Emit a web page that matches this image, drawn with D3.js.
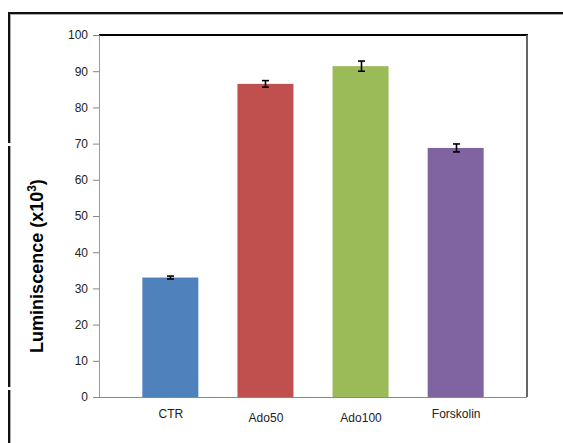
<!DOCTYPE html>
<html>
<head>
<meta charset="utf-8">
<script src="https://cdn.jsdelivr.net/npm/d3@7"></script>
<style>
  html, body { margin: 0; padding: 0; background: #fff; }
  svg { display: block; }
  text { font-family: "Liberation Sans", Arial, sans-serif; }
</style>
</head>
<body>
<svg id="chart" width="563" height="443"></svg>
<script>
// Luminescence per treatment, mean ± error (x10^3)
const categories = ["CTR", "Ado50", "Ado100", "Forskolin"];
const values = [33.0, 86.5, 91.4, 68.8];
const errors = [0.4, 0.9, 1.4, 1.1];
const colors = ["#4f81bd", "#c0504d", "#9bbb59", "#8064a2"];
const yTicks = [0, 10, 20, 30, 40, 50, 60, 70, 80, 90, 100];
const yTitle = "Luminiscence (x10";

const svg = d3.select("#chart");
const m = { left: 99, right: 527, top: 35, bottom: 397 };

const x = d3.scalePoint().domain(categories).range([m.left, m.right]).padding(0.75);
const y = d3.scaleLinear().domain([0, 100]).range([m.bottom, m.top]);
const barW = 56;

// outer frame (top and left edges, with small breaks on the left)
const frame = svg.append("g");
frame.append("line").attr("x1", 9).attr("x2", 563).attr("y1", 14.5).attr("y2", 14.5)
  .attr("stroke", "#aaa").attr("stroke-width", 1);
frame.append("line").attr("x1", 8).attr("x2", 563).attr("y1", 13).attr("y2", 13)
  .attr("stroke", "#111").attr("stroke-width", 2);
[[12, 143], [146, 387], [390, 443]].forEach(([a, b]) => {
  frame.append("line").attr("x1", 10.5).attr("x2", 10.5).attr("y1", Math.max(a, 14)).attr("y2", b)
    .attr("stroke", "#aaa").attr("stroke-width", 1);
  frame.append("line").attr("x1", 9).attr("x2", 9).attr("y1", a).attr("y2", b)
    .attr("stroke", "#111").attr("stroke-width", 2);
});

// plot border: top black, right grey
svg.append("line").attr("x1", m.left).attr("x2", m.right + 1).attr("y1", m.top).attr("y2", m.top)
  .attr("stroke", "#000").attr("stroke-width", 2);
svg.append("line").attr("x1", m.right).attr("x2", m.right).attr("y1", m.top).attr("y2", m.bottom)
  .attr("stroke", "#666").attr("stroke-width", 2);

// bars
svg.append("g").selectAll("rect").data(categories).join("rect")
  .attr("x", (d) => x(d) - barW / 2)
  .attr("width", barW)
  .attr("y", (d, i) => y(values[i]))
  .attr("height", (d, i) => y(0) - y(values[i]))
  .attr("fill", (d, i) => colors[i]);

// error bars
const eb = svg.append("g").attr("stroke", "#000").attr("stroke-width", 1.6);
categories.forEach((c, i) => {
  const cx = Math.round(x(c)) + 0.5;
  const hi = y(values[i] + errors[i]), lo = y(values[i] - errors[i]);
  eb.append("line").attr("x1", cx).attr("x2", cx).attr("y1", hi).attr("y2", lo);
  eb.append("line").attr("x1", cx - 3.5).attr("x2", cx + 3.5).attr("y1", hi).attr("y2", hi);
  eb.append("line").attr("x1", cx - 3.5).attr("x2", cx + 3.5).attr("y1", lo).attr("y2", lo);
});

// y axis
const yAxis = svg.append("g").attr("transform", `translate(${m.left},0)`)
  .call(d3.axisLeft(y).tickValues(yTicks).tickSize(6).tickPadding(5));
yAxis.select(".domain").attr("stroke", "#999");
yAxis.selectAll(".tick line").attr("stroke", "#888");
yAxis.selectAll(".tick text").attr("font-size", 12).attr("fill", "#222")
  .attr("font-family", "'Liberation Sans', Arial, sans-serif");

// x axis baseline
const xAxis = svg.append("g").attr("transform", `translate(0,${m.bottom})`)
  .call(d3.axisBottom(x).tickSize(0).tickPadding(11));
xAxis.select(".domain").attr("stroke", "#888").attr("d", `M${m.left},0.5H${m.right}`);
xAxis.selectAll(".tick text").attr("font-size", 12).attr("fill", "#222")
  .attr("font-family", "'Liberation Sans', Arial, sans-serif")
  .attr("dy", (d) => (d === "Ado50" || d === "Ado100") ? "1.2em" : "0.8em");

// y title
const t = svg.append("text")
  .attr("transform", `translate(43,266) rotate(-90)`)
  .attr("text-anchor", "middle")
  .attr("font-size", 18).attr("font-weight", "bold").attr("fill", "#000");
t.append("tspan").text(yTitle);
t.append("tspan").attr("font-size", 12).attr("dy", -7).text("3");
t.append("tspan").attr("dy", 7).text(")");
</script>
</body>
</html>
